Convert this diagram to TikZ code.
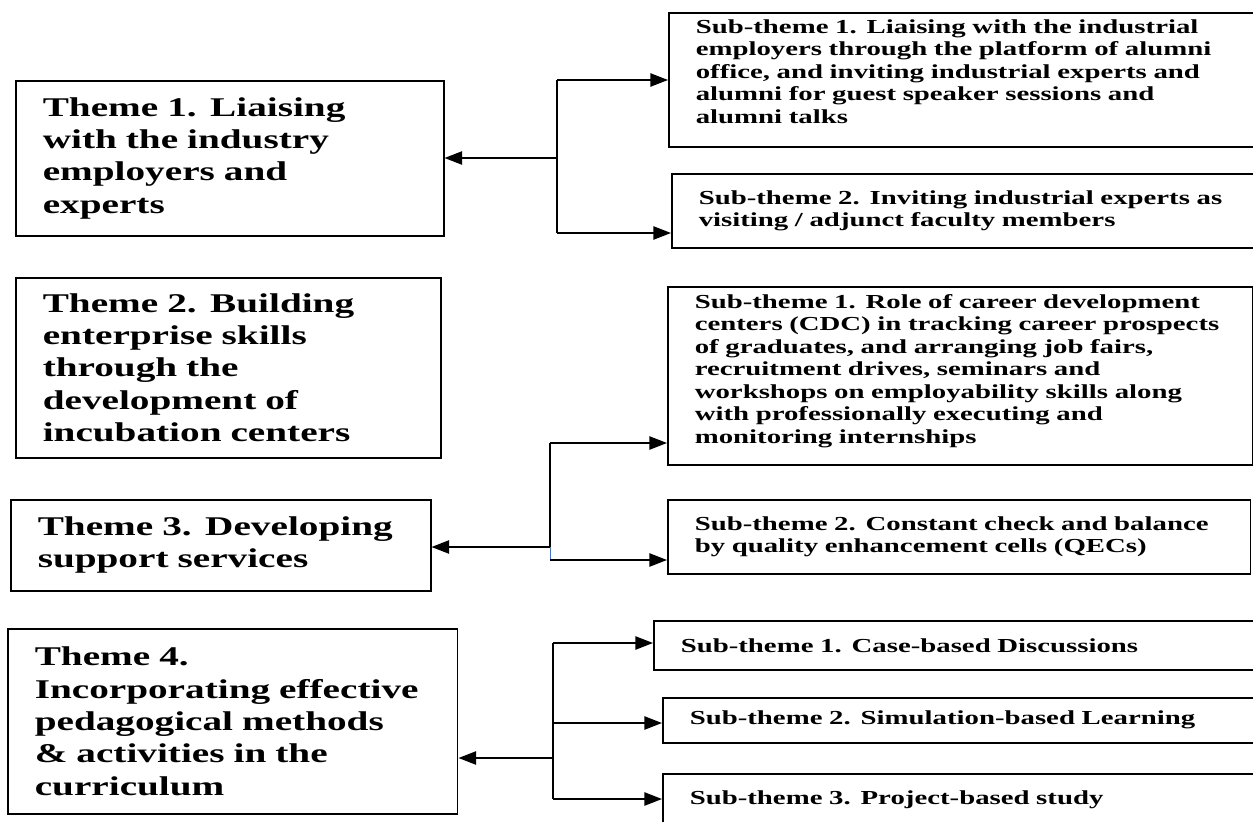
\documentclass[tikz,border=0pt]{standalone}
\usepackage{fontspec}
\newfontfamily\boxfont{Liberation Serif}[FakeStretch=1.45]
\usetikzlibrary{arrows.meta}
\definecolor{wordblue}{RGB}{68,114,196}

\begin{document}
\begin{tikzpicture}[x=0.02cm,y=-0.02cm,
  theme/.style={draw,line width=0.9pt,anchor=north west,inner xsep=0.54cm,inner ysep=0pt,align=left,
    font=\boxfont\bfseries\fontsize{15.4}{18.4}\selectfont},
  subtheme/.style={draw,line width=0.9pt,anchor=north west,inner xsep=0.54cm,inner ysep=0pt,align=left,
    font=\boxfont\bfseries\fontsize{11.3}{12.8}\selectfont},
  link/.style={line width=1pt},
  tip/.style={link,-{Triangle[length=10pt,width=7.5pt]}}]
\useasboundingbox (0,0) rectangle (1253,821);
\clip (0,0) rectangle (1253,821);
% themes
\node[theme,text width=7.48cm,minimum height=3.1cm] (t1) at (15,80) {Theme 1. Liaising\\with the industry\\employers and\\experts};
\node[theme,text width=7.42cm,minimum height=3.6cm] (t2) at (15,277) {Theme 2. Building\\enterprise skills\\through the\\development of\\incubation centers};
\node[theme,text width=7.32cm,minimum height=1.82cm] (t3) at (10,499) {Theme 3. Developing\\support services};
\node[theme,text width=7.92cm,minimum height=3.7cm] (t4) at (7,628) {Theme 4.\\Incorporating effective\\pedagogical methods\\\& activities in the\\curriculum};
% sub-themes
\node[subtheme,text width=10.8cm,minimum height=2.68cm] (s11) at (668,12) {Sub-theme 1. Liaising with the industrial\\employers through the platform of alumni\\office, and inviting industrial experts and\\alumni for guest speaker sessions and\\alumni talks\par\vspace*{-3pt}\mbox{}};
\node[subtheme,text width=10.74cm,minimum height=1.48cm] (s12) at (671,173) {Sub-theme 2. Inviting industrial experts as\\visiting / adjunct faculty members};
\node[subtheme,text width=10.62cm,minimum height=3.56cm] (s31) at (667,286) {Sub-theme 1. Role of career development\\centers (CDC) in tracking career prospects\\of graduates, and arranging job fairs,\\recruitment drives, seminars and\\workshops on employability skills along\\with professionally executing and\\monitoring internships\par\vspace*{-5pt}\mbox{}};
\node[subtheme,text width=10.58cm,minimum height=1.48cm] (s32) at (667,499) {Sub-theme 2. Constant check and balance\\by quality enhancement cells (QECs)};
\node[subtheme,text width=11.1cm,minimum height=0.98cm] (s41) at (653,620) {Sub-theme 1. Case-based Discussions};
\node[subtheme,text width=10.92cm,minimum height=0.9cm] (s42) at (662,697) {Sub-theme 2. Simulation-based Learning};
\node[subtheme,text width=10.92cm,minimum height=1.04cm] (s43) at (662,773) {Sub-theme 3. Project-based study};
% junctions
\coordinate (j1) at (557,158);
\coordinate (j1a) at (557,80);
\coordinate (j1b) at (557,233);
\coordinate (j3) at (550,547);
\coordinate (j3a) at (550,443);
\coordinate (j3b) at (550,560);
\coordinate (j4) at (553,758);
\coordinate (j4a) at (553,643);
\coordinate (j4b) at (553,723);
\coordinate (j4c) at (553,799);
% theme 1
\draw[tip] (j1) -- (t1.east |- j1);
\draw[link] (j1a) -- (j1b);
\draw[tip] (j1a) -- (s11.west |- j1a);
\draw[tip] (j1b) -- (s12.west |- j1b);
% theme 3
\draw[tip] (j3) -- (t3.east |- j3);
\draw[link] (j3a) -- (j3);
\draw[wordblue,line width=0.5pt] (j3) -- (j3b);
\draw[tip] (j3a) -- (s31.west |- j3a);
\draw[tip] (j3b) -- (s32.west |- j3b);
% theme 4
\draw[tip] (j4) -- (t4.east |- j4);
\draw[link] (j4a) -- (j4c);
\draw[tip] (j4a) -- (s41.west |- j4a);
\draw[tip] (j4b) -- (s42.west |- j4b);
\draw[tip] (j4c) -- (s43.west |- j4c);
\end{tikzpicture}
\end{document}
